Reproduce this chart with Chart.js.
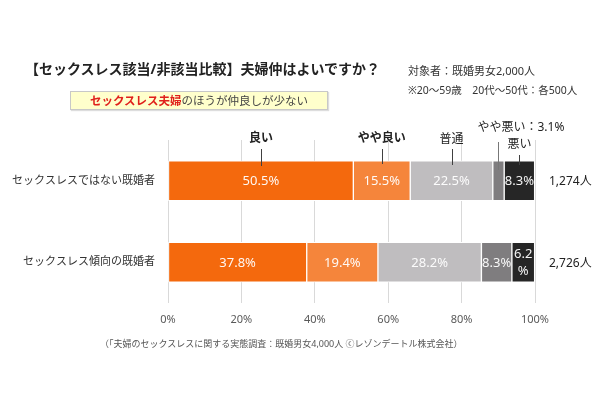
<!DOCTYPE html>
<html>
<head>
<meta charset="utf-8">
<script src="https://cdn.jsdelivr.net/npm/chart.js@4"></script>
<style>
  body{margin:0;background:#fff;font-family:"Noto Sans","Noto Sans CJK JP",sans-serif;}
  #wrap{position:relative;width:600px;height:400px;}
  canvas{position:absolute;left:0;top:0;}
  .txt{position:absolute;white-space:nowrap;color:#222;}
  #title{left:25px;top:60px;font-size:14px;font-weight:bold;line-height:18px;}
  #n1{left:408px;top:64px;font-size:11px;line-height:14px;color:#333;}
  #n2{left:408px;top:83px;font-size:10.5px;line-height:14px;color:#333;}
  #box{left:70px;top:91px;width:256px;height:17px;border:1px solid #c8c8c8;background:#ffffcc;
       font-size:11.5px;line-height:17px;text-align:center;color:#444;box-shadow:1px 1px 1px #ddd;}
  #box b{color:#e0201b;}
  #foot{left:100px;top:338px;font-size:9px;line-height:12px;color:#555;}
</style>
</head>
<body>
<div id="wrap">
  <canvas id="c" width="600" height="400"></canvas>
  <div class="txt" id="title">【セックスレス該当/非該当比較】夫婦仲はよいですか？</div>
  <div class="txt" id="n1">対象者：既婚男女2,000人</div>
  <div class="txt" id="n2">※20～59歳　20代～50代：各500人</div>
  <div class="txt" id="box"><b>セックスレス夫婦</b>のほうが仲良しが少ない</div>
  <div class="txt" id="foot">（「夫婦のセックスレスに関する実態調査：既婚男女4,000人 ⓒレゾンデートル株式会社）</div>
</div>
<script>
// --- Data ---
const categories = ['セックスレスではない既婚者', 'セックスレス傾向の既婚者'];
const seriesNames = ['良い', 'やや良い', '普通', 'やや悪い', '悪い'];
const good       = [50.5, 37.8];
const fairlyGood = [15.5, 19.4];
const neutral    = [22.5, 28.2];
const fairlyBad  = [3.1, 8.3];
const bad        = [8.3, 6.2];
const respondents = ['1,274人', '2,726人'];
const xTicks = [0, 20, 40, 60, 80, 100];

const colors = ['#f4690d', '#f5853b', '#bfbdbf', '#7f7d7f', '#262626'];
const FONT = '"Noto Sans","Noto Sans CJK JP",sans-serif';

// callout styles above the first bar (series order)
const callouts = [
  {bold:true,  ty:139, y1:149, y2:166},
  {bold:true,  ty:139, y1:149, y2:164},
  {bold:false, ty:140, y1:149, y2:165},
  {bold:false, ty:128, y1:142, y2:170, dx:-21, align:'left', color:'#777'},
  {bold:false, ty:145, y1:155, y2:165}
];

// --- Plugin: values in bars, callouts, respondent counts ---
const labelPlugin = {
  id:'labels',
  afterDatasetsDraw(chart){
    const ctx = chart.ctx, area = chart.chartArea;
    ctx.save();
    chart.data.datasets.forEach((ds, di) => {
      const meta = chart.getDatasetMeta(di);
      meta.data.forEach((el, i) => {
        const p = el.getProps(['x','y','base'], true);
        const w = Math.abs(p.x - p.base), mid = (p.x + p.base) / 2;
        // value label
        if (w >= 14) {
          ctx.fillStyle = 'rgba(255,255,255,0.95)';
          ctx.font = '13px ' + FONT;
          ctx.textAlign = 'center'; ctx.textBaseline = 'middle';
          const s = ds.data[i].toFixed(1);
          if (w < 26) { ctx.fillText(s, mid, p.y - 8); ctx.fillText('%', mid, p.y + 9); }
          else ctx.fillText(s + '%', mid, p.y + 1);
        }
        // callouts on first bar
        if (i === 0) {
          const c = callouts[di];
          ctx.strokeStyle = c.color || '#404040'; ctx.lineWidth = 1;
          ctx.beginPath(); ctx.moveTo(Math.round(mid)+0.5, c.y1); ctx.lineTo(Math.round(mid)+0.5, c.y2); ctx.stroke();
          ctx.fillStyle = '#222';
          ctx.font = (c.bold ? 'bold ' : '') + '12px ' + FONT;
          ctx.textAlign = c.align || 'center'; ctx.textBaseline = 'middle';
          const t = w < 14 ? ds.label + '：' + ds.data[i] + '%' : ds.label;
          ctx.fillText(t, mid + (c.dx || 0), c.ty);
        }
      });
    });
    // respondent counts
    const yMeta = chart.getDatasetMeta(0);
    ctx.fillStyle = '#222'; ctx.font = '12px ' + FONT;
    ctx.textAlign = 'left'; ctx.textBaseline = 'middle';
    respondents.forEach((r, i) => ctx.fillText(r, area.right + 14, yMeta.data[i].y + 1));
    ctx.restore();
  }
};

const seriesData = [good, fairlyGood, neutral, fairlyBad, bad];

new Chart(document.getElementById('c'), {
  type:'bar',
  data:{
    labels:categories,
    datasets:seriesNames.map((n, i) => ({
      label:n, data:seriesData[i], backgroundColor:colors[i],
      borderColor:'#ffffff', borderWidth:1, borderSkipped:false, barThickness:40
    }))
  },
  options:{
    indexAxis:'y',
    responsive:false,
    animation:false,
    layout:{padding:{left:0, right:65, top:140, bottom:60}},
    plugins:{legend:{display:false}, tooltip:{enabled:false}},
    scales:{
      x:{
        stacked:true, min:0, max:100,
        afterBuildTicks:s => { s.ticks = xTicks.map(v => ({value:v})); },
        afterFit:s => { s.height = 37; },
        grid:{color:'#d9d9d9', drawTicks:false},
        border:{display:false},
        ticks:{padding:10, color:'#595959', font:{size:11, family:FONT}, callback:v => v + '%'}
      },
      y:{
        stacked:true,
        afterFit:s => { s.width = 168; },
        grid:{display:false, drawTicks:false},
        border:{display:false},
        ticks:{padding:13, color:'#333', font:{size:11, family:FONT}}
      }
    }
  },
  plugins:[labelPlugin]
});
</script>
</body>
</html>
